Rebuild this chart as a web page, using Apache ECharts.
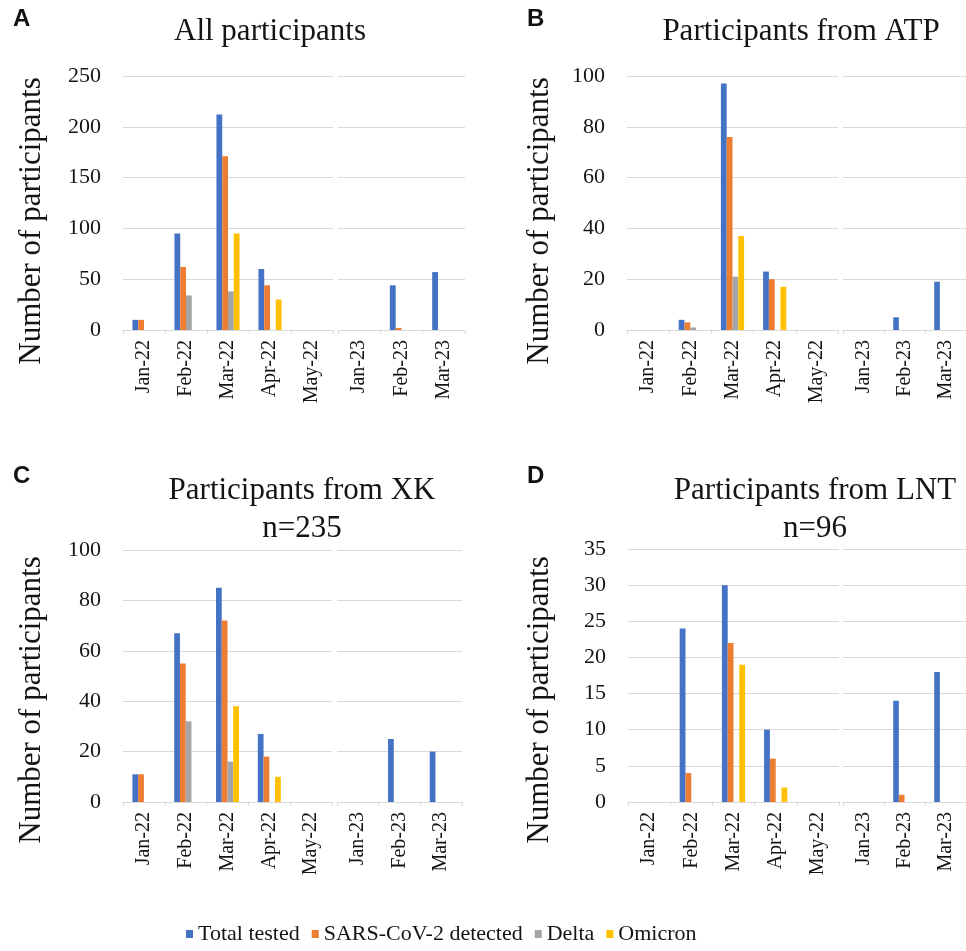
<!DOCTYPE html>
<html><head><meta charset="utf-8">
<script src="https://cdn.jsdelivr.net/npm/echarts@6/dist/echarts.min.js"></script>
<style>html,body{margin:0;padding:0;background:#fff}#c{width:966px;height:951px}</style>
</head><body><div id="c"></div>
<script>
// ---- data ----
const categories2022 = ['Jan-22', 'Feb-22', 'Mar-22', 'Apr-22', 'May-22'];
const categories2023 = ['Jan-23', 'Feb-23', 'Mar-23'];
const seriesNames = ['Total tested', 'SARS-CoV-2 detected', 'Delta', 'Omicron'];
// each array: Jan-22, Feb-22, Mar-22, Apr-22, May-22, Jan-23, Feb-23, Mar-23
const allTotal    = [10, 95, 212, 60, 0, 0, 44, 57];
const allDetected = [10, 62, 171, 44, 0, 0, 2, 0];
const allDelta    = [0, 34, 38, 0, 0, 0, 0, 0];
const allOmicron  = [0, 0, 95, 30, 0, 0, 0, 0];
const atpTotal    = [0, 4, 97, 23, 0, 0, 5, 19];
const atpDetected = [0, 3, 76, 20, 0, 0, 0, 0];
const atpDelta    = [0, 1, 21, 0, 0, 0, 0, 0];
const atpOmicron  = [0, 0, 37, 17, 0, 0, 0, 0];
const xkTotal     = [11, 67, 85, 27, 0, 0, 25, 20];
const xkDetected  = [11, 55, 72, 18, 0, 0, 0, 0];
const xkDelta     = [0, 32, 16, 0, 0, 0, 0, 0];
const xkOmicron   = [0, 0, 38, 10, 0, 0, 0, 0];
const lntTotal    = [0, 24, 30, 10, 0, 0, 14, 18];
const lntDetected = [0, 4, 22, 6, 0, 0, 1, 0];
const lntDelta    = [0, 0, 0, 0, 0, 0, 0, 0];
const lntOmicron  = [0, 0, 19, 2, 0, 0, 0, 0];
const yTicksAll = [0, 50, 100, 150, 200, 250];
const yTicksATP = [0, 20, 40, 60, 80, 100];
const yTicksXK  = [0, 20, 40, 60, 80, 100];
const yTicksLNT = [0, 5, 10, 15, 20, 25, 30, 35];
const panelTitles = ['All participants', 'Participants from ATP', 'Participants from XK\nn=235', 'Participants from LNT\nn=96'];
const panelLetters = ['A', 'B', 'C', 'D'];
const yAxisTitle = 'Number of participants';

// ---- layout / style ----
const colors = ['#4472C4', '#ED7D31', '#A5A5A5', '#FFC000'];
const SERIF = 'Liberation Serif, Times New Roman, serif';
const TEXT = '#141414';
const panels = [
  { values: [allTotal, allDetected, allDelta, allOmicron], ticks: yTicksAll,
    top: 76, height: 254, l1: 123, w1: 210, l2: 338, w2: 127,
    yName: [32, 221], title: [270, 32], letter: [13, 19] },
  { values: [atpTotal, atpDetected, atpDelta, atpOmicron], ticks: yTicksATP,
    top: 76, height: 254, l1: 627, w1: 211, l2: 843, w2: 123,
    yName: [540, 221], title: [801, 32], letter: [527, 19] },
  { values: [xkTotal, xkDetected, xkDelta, xkOmicron], ticks: yTicksXK,
    top: 550, height: 252, l1: 123, w1: 209, l2: 337, w2: 125,
    yName: [32, 700], title: [302, 510], letter: [13, 476] },
  { values: [lntTotal, lntDetected, lntDelta, lntOmicron], ticks: yTicksLNT,
    top: 549, height: 253, l1: 628, w1: 211, l2: 843, w2: 123,
    yName: [540, 700], title: [815, 510], letter: [527, 476] }
];

const grid = [], xAxis = [], yAxis = [], series = [], graphic = [];
const gridColor = '#d9d9d9';

panels.forEach((p, pi) => {
  const tmin = p.ticks[0], tmax = p.ticks[p.ticks.length - 1];
  const interval = p.ticks[1] - p.ticks[0];
  [[p.l1, p.w1, categories2022, 0, 5], [p.l2, p.w2, categories2023, 5, 8]].forEach(([l, w, cats, s0, s1], hi) => {
    const gi = grid.length;
    grid.push({ left: l, top: p.top, width: w, height: p.height, containLabel: false });
    xAxis.push({
      type: 'category', gridIndex: gi, data: cats,
      axisLine: { lineStyle: { color: gridColor, width: 1 } },
      axisTick: { show: true, length: 4, lineStyle: { color: gridColor } },
      axisLabel: { rotate: 90, interval: 0, margin: 10, fontFamily: SERIF, fontSize: 20, color: TEXT }
    });
    yAxis.push({
      type: 'value', gridIndex: gi, min: tmin, max: tmax, interval: interval,
      axisLine: { show: false }, axisTick: { show: false },
      splitLine: { show: true, lineStyle: { color: gridColor, width: 1 } },
      axisLabel: { show: hi === 0, margin: 22, fontFamily: SERIF, fontSize: 22, color: TEXT }
    });
    seriesNames.forEach((sn, si) => {
      series.push({
        type: 'bar', name: sn, xAxisIndex: gi, yAxisIndex: gi,
        data: p.values[si].slice(s0, s1),
        barGap: '0%', barCategoryGap: '45%',
        itemStyle: { color: colors[si] }, silent: true
      });
    });
  });
  graphic.push({
    type: 'text', x: p.title[0], y: p.title[1],
    style: { text: panelTitles[pi], fontFamily: SERIF, fontSize: 31, fill: TEXT,
      align: 'center', verticalAlign: 'middle', lineHeight: 38 }
  });
  graphic.push({
    type: 'text', x: p.yName[0], y: p.yName[1], rotation: Math.PI / 2,
    style: { text: yAxisTitle, fontFamily: SERIF, fontSize: 31, fill: TEXT,
      align: 'center', verticalAlign: 'middle' }
  });
  graphic.push({
    type: 'text', x: p.letter[0], y: p.letter[1],
    style: { text: panelLetters[pi], fontFamily: 'Liberation Sans, Arial, sans-serif', fontWeight: 'bold',
      fontSize: 24, fill: '#111', align: 'left', verticalAlign: 'middle' }
  });
});

const chart = echarts.init(document.getElementById('c'), null, { renderer: 'canvas' });
chart.setOption({
  animation: false,
  backgroundColor: '#fff',
  grid, xAxis, yAxis, series, graphic,
  legend: {
    data: seriesNames, left: 181, top: 918, icon: 'rect', itemWidth: 7, itemHeight: 8, itemGap: 12,
    textStyle: { fontFamily: SERIF, fontSize: 22, color: TEXT },
    selectedMode: false
  }
});
</script>
</body></html>
